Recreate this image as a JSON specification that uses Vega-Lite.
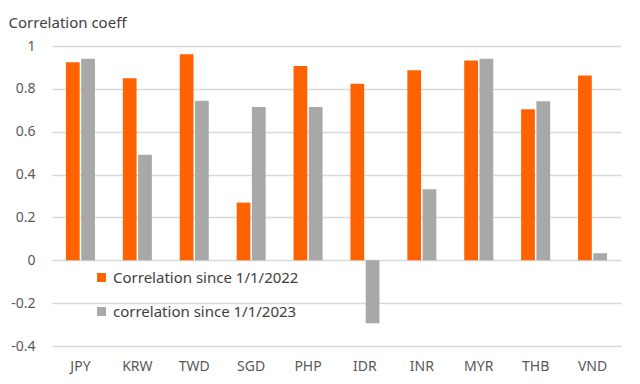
{
  "$schema": "https://vega.github.io/schema/vega-lite/v6.json",
  "width": 569,
  "height": 300,
  "autosize": {"type": "none"},
  "padding": {"left": 52, "top": 46, "right": 19, "bottom": 38},
  "background": "white",
  "config": {
    "font": "Noto Sans",
    "view": {"stroke": null}
  },
  "data": {
    "values": [
      {"ccy": "JPY", "series": "Correlation since 1/1/2022", "value": 0.924},
      {"ccy": "JPY", "series": "correlation since 1/1/2023", "value": 0.94},
      {"ccy": "KRW", "series": "Correlation since 1/1/2022", "value": 0.849},
      {"ccy": "KRW", "series": "correlation since 1/1/2023", "value": 0.493},
      {"ccy": "TWD", "series": "Correlation since 1/1/2022", "value": 0.961},
      {"ccy": "TWD", "series": "correlation since 1/1/2023", "value": 0.745},
      {"ccy": "SGD", "series": "Correlation since 1/1/2022", "value": 0.269},
      {"ccy": "SGD", "series": "correlation since 1/1/2023", "value": 0.715},
      {"ccy": "PHP", "series": "Correlation since 1/1/2022", "value": 0.907},
      {"ccy": "PHP", "series": "correlation since 1/1/2023", "value": 0.715},
      {"ccy": "IDR", "series": "Correlation since 1/1/2022", "value": 0.824},
      {"ccy": "IDR", "series": "correlation since 1/1/2023", "value": -0.294},
      {"ccy": "INR", "series": "Correlation since 1/1/2022", "value": 0.887},
      {"ccy": "INR", "series": "correlation since 1/1/2023", "value": 0.331},
      {"ccy": "MYR", "series": "Correlation since 1/1/2022", "value": 0.932},
      {"ccy": "MYR", "series": "correlation since 1/1/2023", "value": 0.941},
      {"ccy": "THB", "series": "Correlation since 1/1/2022", "value": 0.705},
      {"ccy": "THB", "series": "correlation since 1/1/2023", "value": 0.742},
      {"ccy": "VND", "series": "Correlation since 1/1/2022", "value": 0.862},
      {"ccy": "VND", "series": "correlation since 1/1/2023", "value": 0.033}
    ]
  },
  "mark": {"type": "bar"},
  "encoding": {
    "x": {
      "field": "ccy",
      "type": "nominal",
      "sort": null,
      "scale": {"paddingInner": 0.49, "paddingOuter": 0.245},
      "axis": {
        "title": null,
        "labelAngle": 0,
        "domain": false,
        "ticks": false,
        "labelPadding": 13,
        "labelFontSize": 14,
        "labelColor": "#595959",
        "grid": false
      }
    },
    "xOffset": {
      "field": "series",
      "type": "nominal",
      "scale": {"paddingInner": 0.1}
    },
    "y": {
      "field": "value",
      "type": "quantitative",
      "scale": {"domain": [-0.4, 1], "nice": false, "zero": false},
      "axis": {
        "values": [-0.4, -0.2, 0, 0.2, 0.4, 0.6, 0.8, 1],
        "labelExpr": "replace(format(datum.value, '.1~f'), '−', '-')",
        "domain": false,
        "ticks": false,
        "labelPadding": 17,
        "labelFontSize": 14,
        "labelColor": "#595959",
        "gridColor": "#D9D9D9",
        "gridWidth": 1.5,
        "title": "Correlation coeff",
        "titleAngle": 0,
        "titleAlign": "left",
        "titleBaseline": "middle",
        "titleX": -44,
        "titleY": -24,
        "titleFontSize": 15,
        "titleFontWeight": "normal",
        "titleColor": "#404040"
      }
    },
    "color": {
      "field": "series",
      "type": "nominal",
      "scale": {
        "domain": ["Correlation since 1/1/2022", "correlation since 1/1/2023"],
        "range": ["#FF6200", "#A8A8A8"]
      },
      "legend": {
        "title": null,
        "orient": "none",
        "legendX": 42,
        "legendY": 224,
        "symbolType": "square",
        "symbolSize": 80,
        "symbolStrokeWidth": 0,
        "labelFontSize": 15,
        "labelLimit": 0,
        "labelColor": "#404040",
        "rowPadding": 18,
        "labelOffset": 4
      }
    }
  }
}
